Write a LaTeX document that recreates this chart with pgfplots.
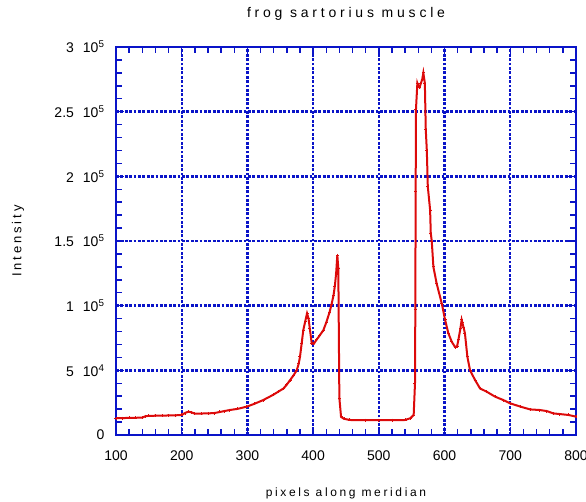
\documentclass[border=0pt]{standalone}
\usepackage{fontspec}
\setmainfont{Liberation Sans}
\usepackage{pgfplots}
\pgfplotsset{compat=1.18}
\definecolor{gblue}{RGB}{10,20,200}
\definecolor{cred}{RGB}{220,10,10}
\newcommand{\tl}[2]{#1\hspace{9pt}10\textsuperscript{#2}}
\begin{document}
\begin{tikzpicture}
\begin{axis}[
  width=460pt, height=388pt, scale only axis,
  xmin=100, xmax=800, ymin=0, ymax=300000,
  xtick={100,200,...,800},
  ytick={0,50000,100000,150000,200000,250000,300000},
  yticklabels={0, \tl{5}{4}, \tl{1}{5}, \tl{1.5}{5}, \tl{2}{5}, \tl{2.5}{5}, \tl{3}{5}},
  scaled y ticks=false,
  /pgf/number format/assume math mode=true,
  xticklabel style={font=\fontsize{14}{16}\selectfont, anchor=center, yshift=-21pt},
  yticklabel style={font=\fontsize{14}{16}\selectfont, anchor=east, xshift=-8pt},
  minor tick num=4,
  tick align=inside,
  tick pos=both,
  major tick length=8pt, minor tick length=6pt,
  every tick/.style={gblue, line width=1.5pt},
  axis line style={gblue, line width=2.4pt},
  grid=major,
  major grid style={gblue, line width=2.4pt, dash pattern=on 2.8pt off 1.6pt},
  title={frog sartorius muscle},
  title style={font=\fontsize{14}{16}\selectfont\addfontfeatures{LetterSpace=27}, at={(axis description cs:0.5,1)}, anchor=center, yshift=27pt},
  xlabel={pixels along meridian},
  xlabel style={font=\fontsize{12}{14}\selectfont\addfontfeatures{LetterSpace=22}, at={(axis description cs:0.5,0)}, anchor=center, yshift=-58pt},
  ylabel={Intensity},
  ylabel style={font=\fontsize{13}{15}\selectfont\addfontfeatures{LetterSpace=22}, at={(axis description cs:0,0.5)}, anchor=center, yshift=98pt},
]
\addplot[cred, line width=2pt, mark=+, mark size=1.5pt, mark options={line width=0.9pt}] coordinates {
(100,13000)(110,13100)(120,13200)(130,13300)(140,13500)(145,14500)(150,14800)(160,14900)(170,15000)(180,15100)(190,15200)(200,15500)
(205,17000)(210,18000)(215,17500)(220,16500)(230,16600)(240,16700)(250,17000)(258,17800)(265,18500)(273,19300)(285,20200)(299,21900)
(310,24000)(324,27000)(339,31000)(347,33500)(355,36000)(360,39000)(365,42500)(370,46000)(375,50000)(378,55000)(380,60500)(382.6,71000)(385,81000)
(388,88000)(390.7,94000)(393,90000)(395,82000)(397.8,71000)(401,70500)(405,73500)(410,77000)(415.5,81000)(420,87000)(425,95000)(428,101000)
(431,108000)(433,115000)(435,125000)(436.8,139000)(438.3,129000)(439.9,28600)(442.5,14000)(447,12500)(456,11600)(480,11500)(500,11500)
(520,11500)(540,11600)(548,13000)(553,15500)(555,40000)(555.5,97000)(556,188000)(556.5,252000)(558.6,272000)(560,270000)(562,269000)
(564,272000)(566,275000)(567.7,280000)(570,272000)(571.4,236000)(573,220000)(574.5,192000)(578,174000)(579,156000)(580.5,150000)
(583,130000)(588,117000)(595.7,101800)(600.8,89000)(605.8,78600)(611,72000)(616,68000)(619,68500)(621,73500)(624,82000)(626,89000)
(627,87000)(629,83000)(631,78600)(634.7,60500)(638.8,50000)(646.4,42500)(654,36000)(664,33500)(677,29600)(689.5,27000)(699.7,24500)
(715,22000)(730,19800)(745,19300)(755.5,18500)(765.6,16700)(775,16200)(788.4,15500)(800,14200)
};
\end{axis}
\pgfresetboundingbox
\path[use as bounding box] ([xshift=-116pt,yshift=-67pt]current axis.south west) rectangle ([xshift=10pt,yshift=47pt]current axis.north east);
\end{tikzpicture}
\end{document}
